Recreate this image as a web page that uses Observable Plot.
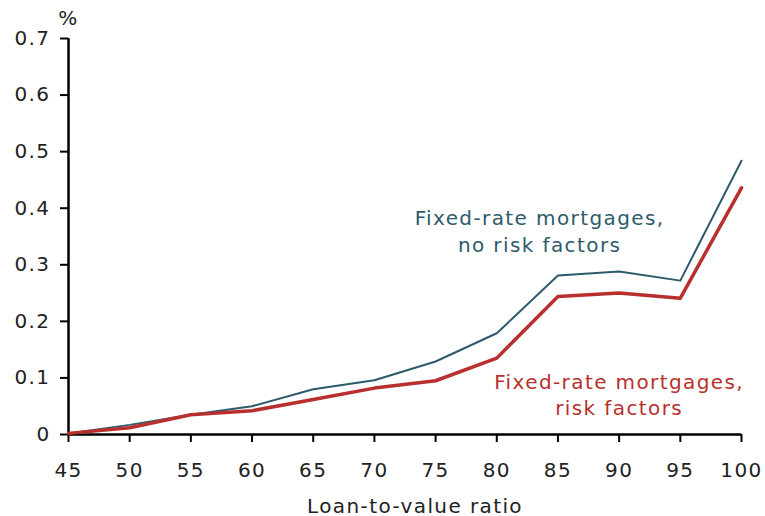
<!DOCTYPE html>
<html>
<head>
<meta charset="utf-8">
<script src="https://cdn.jsdelivr.net/npm/d3@7"></script>
<script src="https://cdn.jsdelivr.net/npm/@observablehq/plot@0.6"></script>
<style>
  html, body { margin: 0; padding: 0; background: #fff; }
  #chart { width: 765px; height: 516px; }
  svg text { letter-spacing: 1.4px; }
</style>
</head>
<body>
<div id="chart"></div>
<script>
const ltv = [45, 50, 55, 60, 65, 70, 75, 80, 85, 90, 95, 100];
const noRisk = [0.002, 0.017, 0.035, 0.050, 0.080, 0.096, 0.129, 0.179, 0.281, 0.288, 0.272, 0.484];
const withRisk = [0.002, 0.012, 0.035, 0.042, 0.062, 0.082, 0.095, 0.135, 0.244, 0.250, 0.241, 0.436];
const xTicks = [45, 50, 55, 60, 65, 70, 75, 80, 85, 90, 95, 100];
const yTicks = [0, 0.1, 0.2, 0.3, 0.4, 0.5, 0.6, 0.7];
const labelNoRisk = ["Fixed-rate mortgages,", "no risk factors"];
const labelRisk = ["Fixed-rate mortgages,", "risk factors"];

const blue = "#2d5b6b";
const red = "#b8302e";
const FS = 20;

const rowsA = ltv.map((x, i) => ({x, y: noRisk[i]}));
const rowsB = ltv.map((x, i) => ({x, y: withRisk[i]}));

const chart = Plot.plot({
  width: 765,
  height: 516,
  marginLeft: 68,
  marginRight: 24,
  marginTop: 38,
  marginBottom: 82,
  style: {fontFamily: "DejaVu Sans, Verdana, sans-serif", fontSize: FS + "px", color: "#222", background: "#fff"},
  x: {domain: [45, 100], ticks: xTicks, label: null},
  y: {domain: [0, 0.7], ticks: yTicks, label: null},
  marks: [
    Plot.axisY({ticks: yTicks, tickSize: 8, tickPadding: 10, tickFormat: d => d === 0 ? "0" : d3.format(".1f")(d), fontSize: FS, stroke: "#000", strokeWidth: 2, strokeOpacity: 1, label: null}),
    Plot.axisX({ticks: xTicks, tickSize: 8, tickPadding: 20, fontSize: FS, stroke: "#000", strokeWidth: 2, strokeOpacity: 1, label: null}),
    Plot.ruleX([45], {stroke: "#000", strokeWidth: 2.5}),
    Plot.ruleY([0], {stroke: "#000", strokeWidth: 2.5}),
    Plot.line(rowsA, {x: "x", y: "y", stroke: blue, strokeWidth: 2}),
    Plot.line(rowsB, {x: "x", y: "y", stroke: red, strokeWidth: 3.5}),
    Plot.text([labelNoRisk.join("\n")], {x: 83.5, y: 0.362, text: d => d, fill: blue, fontSize: FS, textAnchor: "middle", lineHeight: 1.33}),
    Plot.text([labelRisk.join("\n")], {x: 90, y: 0.072, text: d => d, fill: red, fontSize: FS, textAnchor: "middle", lineHeight: 1.3}),
    Plot.text(["%"], {x: 45, y: 0.7, text: d => d, dy: -20, dx: 0, fontSize: FS, fill: "#222", textAnchor: "middle"}),
    Plot.text(["Loan-to-value ratio"], {frameAnchor: "bottom", dy: 78, dx: 10, text: d => d, fontSize: FS, fill: "#222"})
  ]
});
document.getElementById("chart").appendChild(chart);
</script>
</body>
</html>
